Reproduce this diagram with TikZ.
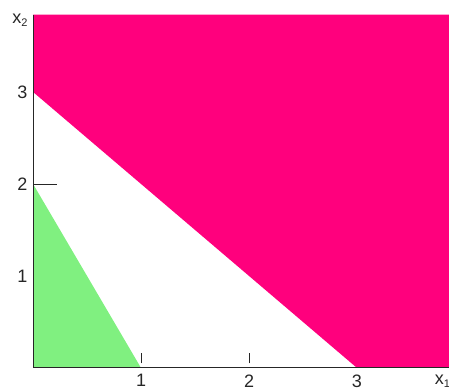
\documentclass[tikz,border=0pt]{standalone}
\usepackage{fontspec}
\setmainfont{Liberation Sans}
\definecolor{regionpink}{RGB}{255,0,125}
\definecolor{regiongreen}{RGB}{128,240,128}
\tikzset{
  axisline/.style={line width=0.9pt, black!85},
  ticklabel/.style={inner sep=0pt, black!85}
}
\begin{document}
\begin{tikzpicture}[x=108pt, y=92pt, font=\fontsize{18}{21}\selectfont]
    \useasboundingbox (-0.306,-0.228) rectangle (3.852,4.0);
    % regions
    \fill[regionpink] (0,3) -- (3,0) -- (3.9,0) -- (3.9,3.84) -- (0,3.84) -- cycle;
    \fill[regiongreen] (0,0) -- (1,0) -- (0,2) -- cycle;
    % axes
    \coordinate (o) at (0,0);
    \coordinate (xend) at (3.9,0);
    \coordinate (yend) at (0,3.84);
    \draw[axisline] (xend) -- (o) -- (yend);
    \foreach \i in {1,2,3}
      {
        \node[ticklabel, anchor=north] (xl\i) at (\i,-0.07) {\i};
        \node[ticklabel, anchor=east] (yl\i) at (-0.05,\i) {\i};
      }
    \foreach \i in {1,2}
      {
        \coordinate (xt\i) at (\i,0.05);
        \coordinate (xu\i) at (\i,0.16);
        \draw[axisline, line width=0.7pt] (xt\i) -- (xu\i);
      }
    \coordinate (yt2) at (0,2);
    \coordinate (yu2) at (0.22,2);
    \draw[axisline] (yt2) -- (yu2);
    % axis names
    \node[ticklabel, anchor=north west] (xname) at (3.72,-0.07) {x\raisebox{-0.35ex}{\fontsize{11}{13}\selectfont 1}};
    \node[ticklabel, anchor=east] (yname) at (-0.05,3.78) {x\raisebox{-0.35ex}{\fontsize{11}{13}\selectfont 2}};
\end{tikzpicture}
\end{document}
